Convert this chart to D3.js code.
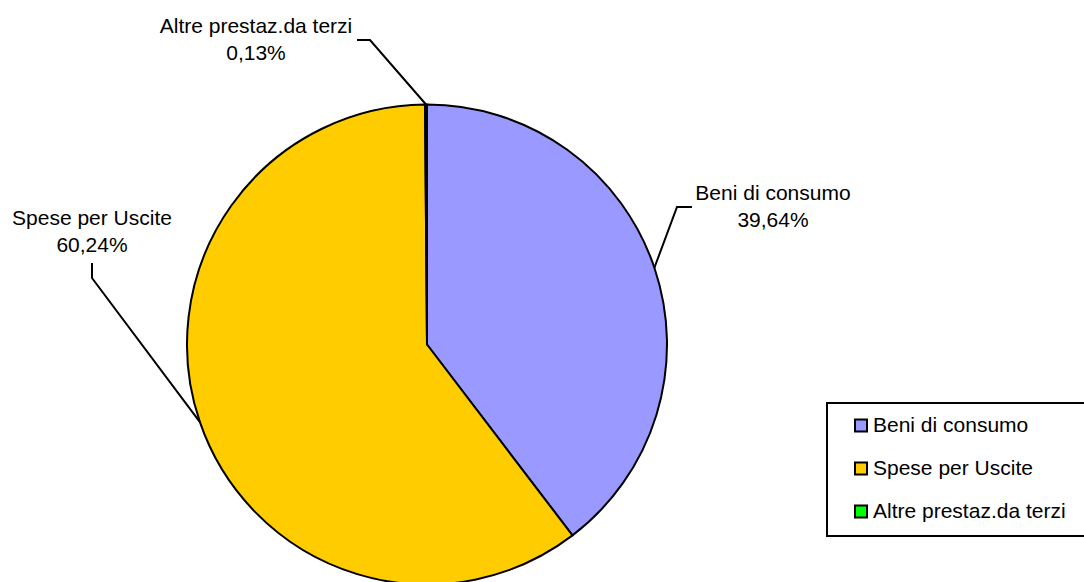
<!DOCTYPE html>
<html><head><meta charset="utf-8">
<script src="https://cdn.jsdelivr.net/npm/d3@7/dist/d3.min.js"></script>
<style>body{margin:0;background:#fff;} svg{display:block;} text{font-family:"Liberation Sans",Arial,sans-serif;fill:#000;}</style>
</head><body>
<svg id="c" width="1084" height="582"></svg>
<script>
const categories = ["Beni di consumo", "Spese per Uscite", "Altre prestaz.da terzi"];
const values = [39.64, 60.24, 0.13];
const valueLabels = ["39,64%", "60,24%", "0,13%"];
const colors = ["#9999FF", "#FFCC00", "#00FF00"];

const svg = d3.select("#c");
const cx = 427, cy = 344.5, R = 240;
const fs = 21;

const pie = d3.pie().sort(null).value(d => d)(values);
const arc = d3.arc().innerRadius(0).outerRadius(R);

const g = svg.append("g").attr("transform", `translate(${cx},${cy})`);
g.selectAll("path").data(pie).join("path")
  .attr("d", arc).attr("fill", (d, i) => colors[i])
  .attr("stroke", "#000").attr("stroke-width", 2).attr("stroke-linejoin", "round");

// label layouts (offsets relative to the pie edge point)
const labelPos = [
  {x: 773, y1: 200, y2: 227, leader: (p) => [[p[0], p[1]], [677, 207], [692, 207]]},
  {x: 92, y1: 225, y2: 252, leader: (p) => [[p[0], p[1]], [92, 278], [92, 263]]},
  {x: 256, y1: 33, y2: 60, leader: (p) => [[p[0], p[1]], [370, 40], [357, 40]]}
];

pie.forEach((d, i) => {
  const a = (d.startAngle + d.endAngle) / 2;
  const p = [cx + R * Math.sin(a), cy - R * Math.cos(a)];
  const L = labelPos[i];
  svg.append("path").attr("d", d3.line()(L.leader(p)))
    .attr("fill", "none").attr("stroke", "#000").attr("stroke-width", 2);
  svg.append("text").attr("x", L.x).attr("y", L.y1).attr("text-anchor", "middle")
    .attr("font-size", fs).text(categories[i]);
  svg.append("text").attr("x", L.x).attr("y", L.y2).attr("text-anchor", "middle")
    .attr("font-size", fs).text(valueLabels[i]);
});

// legend
const lg = svg.append("g");
lg.append("rect").attr("x", 827).attr("y", 403).attr("width", 270).attr("height", 133)
  .attr("fill", "#fff").attr("stroke", "#000").attr("stroke-width", 2);
const legendY = d3.scalePoint().domain(categories).range([432, 518]);
categories.forEach((c, i) => {
  const y = legendY(c);
  lg.append("rect").attr("x", 855).attr("y", y - 12.5).attr("width", 12).attr("height", 12)
    .attr("fill", colors[i]).attr("stroke", "#000").attr("stroke-width", 2);
  lg.append("text").attr("x", 873).attr("y", y).attr("font-size", fs).text(c);
});
</script>
</body></html>
